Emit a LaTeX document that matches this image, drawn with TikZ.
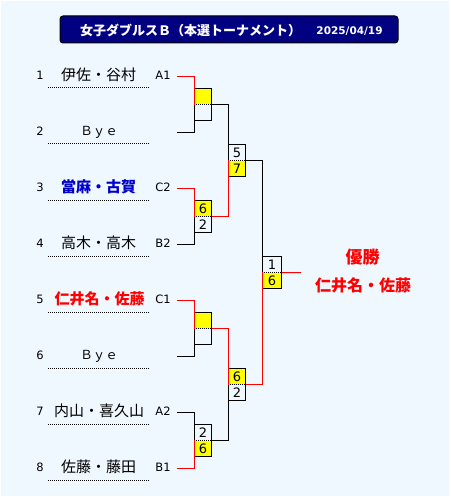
\documentclass[tikz,border=0pt]{standalone}
\usepackage{fontspec}
\newfontfamily\jp{Noto Sans CJK JP}
\newfontfamily\dv{DejaVu Sans}
\definecolor{bg}{HTML}{F0F8FF}
\definecolor{navyt}{HTML}{000080}
\definecolor{nameblue}{HTML}{0000CC}
\definecolor{yel}{HTML}{FFFF00}
\tikzset{
  rownum/.style={font=\dv\fontsize{11.5}{12}\selectfont, inner sep=0pt, text height=8.4pt, text depth=0pt},
  seedlbl/.style={font=\dv\fontsize{11.5}{12}\selectfont, inner sep=0pt, text height=8.4pt, text depth=0pt},
  pname/.style={font=\jp\fontsize{15}{16}\selectfont, inner sep=0pt, text height=13.2pt, text depth=1.8pt},
  byelbl/.style={font=\jp\fontsize{12.5}{13}\selectfont, inner sep=0pt, text height=9.1pt, text depth=0pt},
  half/.style={minimum width=17pt, minimum height=16pt, inner sep=0pt, font=\dv\fontsize{13}{13}\selectfont, text height=9.5pt, text depth=0pt},
  halfw/.style={half, minimum width=19pt},
  win/.style={fill=yel},
  frame/.style={draw=black, line width=1pt},
  sepline/.style={line width=1pt, dash pattern=on 1pt off 1pt},
  uline/.style={line width=1pt, dash pattern=on 1pt off 1pt},
  conn/.style={line width=1pt, draw=black},
  wconn/.style={line width=1pt, draw=red},
  champ/.style={font=\jp\bfseries\fontsize{17}{18}\selectfont, text=red, inner sep=0pt, text height=15pt, text depth=2pt},
  champname/.style={font=\jp\bfseries\fontsize{16}{17}\selectfont, text=red, inner sep=0pt, text height=14.1pt, text depth=1.9pt},
}
\begin{document}
\begin{tikzpicture}[x=1pt,y=-1pt]
\useasboundingbox (0,0) rectangle (450,497);
\fill[bg] (0,0) rectangle (450,497);
\draw[white,line width=1pt] (0.5,0.5) rectangle (449.5,496.5);
% title
\node[draw=black, fill=navyt, rounded corners=3pt, line width=1pt, minimum width=338pt, minimum height=27pt, inner sep=0pt] (title) at (229,29.5) {};
\node[font=\jp\bfseries\fontsize{13}{14}\selectfont, text=white, inner sep=0pt, text height=11.4pt, text depth=1.6pt] (ttext) at (190.5,30.5) {女子ダブルスＢ（本選トーナメント）};
\node[font=\dv\bfseries\fontsize{10.5}{11}\selectfont, text=white, inner sep=0pt, text height=7.7pt, text depth=0pt] (tdate) at (349.5,30.5) {2025/04/19};
% rows
\foreach \i/\nm/\sd/\st in {1/伊佐・谷村/A1/n, 2/Bye/{}/b, 3/當麻・古賀/C2/u, 4/高木・高木/B2/n, 5/仁井名・佐藤/C1/r, 6/Bye/{}/b, 7/内山・喜久山/A2/n, 8/佐藤・藤田/B1/n}{
  \pgfmathsetmacro\L{76.5+56*(\i-1)}
  \pgfmathsetmacro\C{\L-1.5}
  \pgfmathsetmacro\U{\L+11.5}
  \node[rownum] (n\i) at (40,\C) {\i};
  \draw[uline] (48,\U) -- (149,\U);
  \coordinate (e\i) at (177,\L);
}
\node[pname] (p1) at (98.5,75) {伊佐・谷村};
\node[byelbl] (p2) at (99,131) {Ｂｙｅ};
\node[pname, text=nameblue, font=\jp\bfseries\fontsize{15}{16}\selectfont] (p3) at (98.5,187) {當麻・古賀};
\node[pname] (p4) at (98.5,243) {高木・高木};
\node[pname, text=red, font=\jp\bfseries\fontsize{15}{16}\selectfont] (p5) at (99.5,299) {仁井名・佐藤};
\node[byelbl] (p6) at (99,355) {Ｂｙｅ};
\node[pname] (p7) at (99,411) {内山・喜久山};
\node[pname] (p8) at (98.5,467) {佐藤・藤田};
\node[seedlbl] (s1) at (163,75) {A1};
\node[seedlbl] (s3) at (163,187) {C2};
\node[seedlbl] (s4) at (163,243) {B2};
\node[seedlbl] (s5) at (163,299) {C1};
\node[seedlbl] (s7) at (163,411) {A2};
\node[seedlbl] (s8) at (163,467) {B1};
% round 1 boxes
\node[half, win] (m1t) at (203,96.5) {};
\node[half] (m1b) at (203,112.5) {};
\node[half, win] (m2t) at (203,208.5) {6};
\node[half] (m2b) at (203,224.5) {2};
\node[half, win] (m3t) at (203,320.5) {};
\node[half] (m3b) at (203,336.5) {};
\node[half] (m4t) at (203,432.5) {2};
\node[half, win] (m4b) at (203,448.5) {6};
% round 2 boxes
\node[half] (r1t) at (237,152.5) {5};
\node[half, win] (r1b) at (237,168.5) {7};
\node[half, win] (r2t) at (237,376.5) {6};
\node[half] (r2b) at (237,392.5) {2};
% final
\node[halfw] (ft) at (272,264.5) {1};
\node[halfw, win] (fb) at (272,280.5) {6};
% frames and separators
\foreach \a/\b in {m1t/m1b, m2t/m2b, m3t/m3b, m4t/m4b, r1t/r1b, r2t/r2b, ft/fb}{
  \draw[frame] (\a.north west) rectangle (\b.south east);
  \draw[sepline] (\a.south west) -- (\a.south east);
}
% connectors: losers
\draw[conn] (e2) -| (m1b.north west);
\draw[conn] (e4) -| (m2b.north west);
\draw[conn] (e6) -| (m3b.north west);
\draw[conn] (e7) -| (m4t.south west);
\draw[conn] (m1t.south east) -| (r1t.south west);
\draw[conn] (m4t.south east) -| (r2b.north west);
\draw[conn] (r1t.south east) -| (ft.south west);
% connectors: winners
\draw[wconn] (e1) -| (m1t.south west);
\draw[wconn] (e3) -| (m2t.south west);
\draw[wconn] (e5) -| (m3t.south west);
\draw[wconn] (e8) -| (m4b.north west);
\draw[wconn] (m2t.south east) -| (r1b.north west);
\draw[wconn] (m3t.south east) -| (r2t.south west);
\draw[wconn] (r2t.south east) -| (fb.north west);
\coordinate (wend) at (301,272.5);
\draw[wconn] (ft.south east) -- (wend);
% champion
\node[champ] (chl) at (362.7,257.3) {優勝};
\node[champname] (chn) at (363,285) {仁井名・佐藤};
\end{tikzpicture}
\end{document}
